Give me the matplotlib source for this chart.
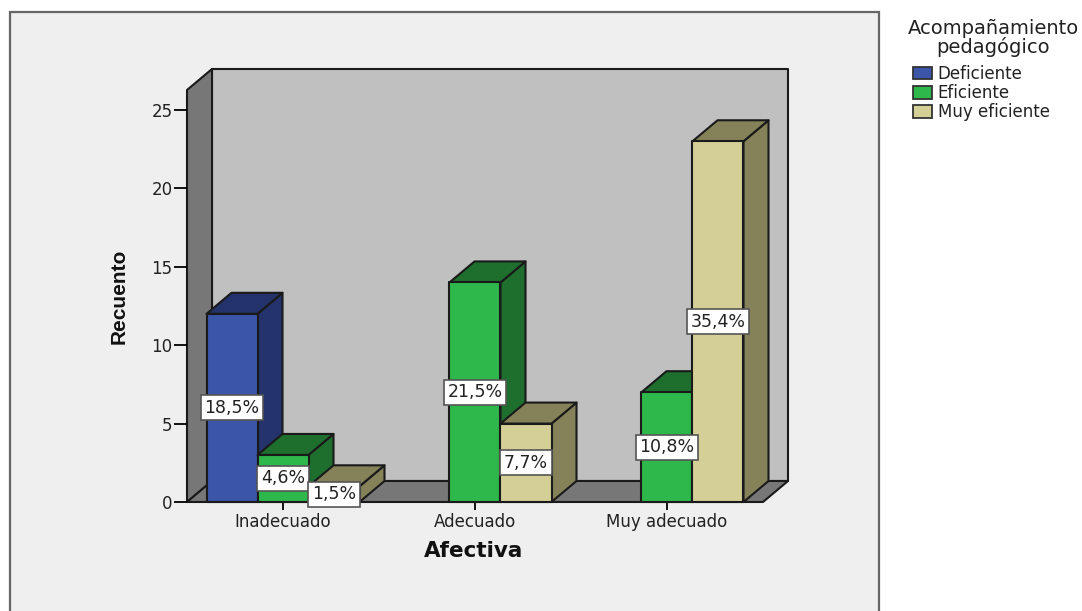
import matplotlib
matplotlib.use('Agg')
import matplotlib.pyplot as plt
from matplotlib.patches import Polygon, Rectangle, Patch

categories = ['Inadecuado', 'Adecuado', 'Muy adecuado']
series_names = ['Deficiente', 'Eficiente', 'Muy eficiente']
deficiente = [12, 0, 0]
eficiente = [3, 14, 7]
muy_eficiente = [1, 5, 23]
deficiente_pct = ['18,5%', '', '']
eficiente_pct = ['4,6%', '21,5%', '10,8%']
muy_eficiente_pct = ['1,5%', '7,7%', '35,4%']
y_ticks = [0, 5, 10, 15, 20, 25]

front_colors = ['#3b55a8', '#2eb84b', '#d3cf96']
shade_colors = ['#24336b', '#1e6f2e', '#85825a']
EDGE = '#1a1a1a'

W, H = 1082, 611
plt.rcParams['font.family'] = 'DejaVu Sans'
fig = plt.figure(figsize=(W / 100, H / 100), dpi=100, facecolor='white')

# grey chart panel, cut off by the bottom of the image
fig.patches.append(Rectangle((10 / W, -0.02), 869 / W, 1 - 12 / H + 0.02,
                             transform=fig.transFigure, facecolor='#efefef',
                             edgecolor='#666666', linewidth=1.6, zorder=-1))

ax = fig.add_axes([187 / W, 1 - 502 / H, 576 / W, 412 / H])
ax.set_xlim(-0.5, 2.5)
ax.set_ylim(0, 26.27)
ax.patch.set_visible(False)
for spine in ax.spines.values():
    spine.set_visible(False)

# 3d look: depth offset in data units
dx = 25 / 192
dy = 21 / 15.68
bar_w = 51 / 192
x0, x1 = ax.get_xlim()
y1 = ax.get_ylim()[1]


def poly(points, color, z):
    ax.add_patch(Polygon(points, closed=True, facecolor=color, edgecolor=EDGE,
                         linewidth=1.5, clip_on=False, zorder=z, joinstyle='round'))


poly([(x0 + dx, dy), (x1 + dx, dy), (x1 + dx, y1 + dy), (x0 + dx, y1 + dy)], '#c0c0c0', 1)
poly([(x0, 0), (x0 + dx, dy), (x0 + dx, y1 + dy), (x0, y1)], '#777777', 1)
poly([(x0, 0), (x1, 0), (x1 + dx, dy), (x0 + dx, dy)], '#777777', 1)

values = [deficiente, eficiente, muy_eficiente]
pcts = [deficiente_pct, eficiente_pct, muy_eficiente_pct]
z = 2
for i in range(len(categories)):
    for s in range(3):
        v = values[s][i]
        if v == 0:
            continue
        # every category keeps a slot for all three series
        left = i + (s - 1.5) * bar_w
        right = left + bar_w
        poly([(left, 0), (right, 0), (right, v), (left, v)], front_colors[s], z + 0.2)
        poly([(right, 0), (right + dx, dy), (right + dx, v + dy), (right, v)], shade_colors[s], z)
        poly([(left, v), (right, v), (right + dx, v + dy), (left + dx, v + dy)], shade_colors[s], z)
        z += 1
        ax.text((left + right) / 2, v / 2, pcts[s][i], ha='center', va='center',
                fontsize=12.5, color='#222222', zorder=50,
                bbox=dict(boxstyle='square,pad=0.2', facecolor='white',
                          edgecolor='#555555', linewidth=1.2))

ax.set_xticks(range(len(categories)))
ax.set_xticklabels(categories)
ax.set_yticks(y_ticks)
ax.tick_params(axis='x', length=6, width=1.3, pad=2, labelsize=12, labelcolor='#222222')
ax.tick_params(axis='y', length=9.5, width=1.3, pad=1, labelsize=12, labelcolor='#222222')

fig.text(119 / W, 1 - 296 / H, 'Recuento', rotation=90, ha='center', va='center',
         fontsize=15, fontweight='bold', family='Liberation Sans', color='#111111')
fig.text(474 / W, 1 - 551 / H, 'Afectiva', ha='center', va='center',
         fontsize=15.5, fontweight='bold', color='#111111')

fig.text(993 / W, 1 - 38 / H, 'Acompañamiento\npedagógico', ha='center', va='center',
         fontsize=14, linespacing=0.95, color='#222222')
handles = [Patch(facecolor=c, edgecolor='#333333', linewidth=1.3, label=n)
           for c, n in zip(front_colors, series_names)]
fig.legend(handles=handles, loc='upper left', bbox_to_anchor=(911 / W, 1 - 63 / H),
           frameon=False, fontsize=12, handlelength=1.15, handleheight=0.8,
           handletextpad=0.35, labelspacing=0.08, borderpad=0.1, borderaxespad=0,
           labelcolor='#222222')

fig.savefig('out.png', dpi=100)
